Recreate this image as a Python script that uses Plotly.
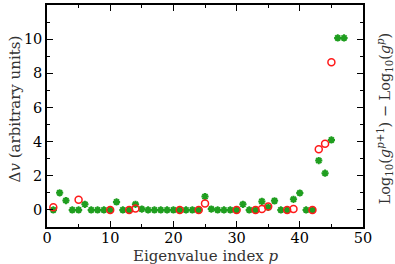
import plotly.graph_objects as go

green_x = list(range(1, 48))
green_y = [0, 1.0, 0.55, 0, 0, 0.33, 0, 0, 0, 0,
           0.47, 0, 0, 0.33, 0.05, 0, 0, 0, 0, 0,
           0, 0, 0, 0, 0.78, 0.05, 0, 0, 0, 0,
           0.33, 0, 0, 0.5, 0.15, 0.53, 0, 0, 0.62, 0.99,
           0, 0, 2.89, 2.15, 4.1, 10.07, 10.07]

red_x = [1, 5, 10, 13, 14, 21, 24, 25, 30, 33, 34, 35, 38, 39, 42, 43, 44, 45]
red_y = [0.15, 0.59, 0, 0, 0.08, 0, 0, 0.37, 0, 0, 0.05, 0.2, 0, 0.05, 0, 3.55, 3.88, 8.65]

FONT = "DejaVu Serif"
TXT = "#333333"

fig = go.Figure()
fig.add_trace(go.Scatter(
    x=green_x, y=green_y, mode="markers",
    marker=dict(symbol="asterisk", size=6, color="#1f9e1f",
                line=dict(color="#1f9e1f", width=2)),
    showlegend=False, cliponaxis=False))
fig.add_trace(go.Scatter(
    x=red_x, y=red_y, mode="markers",
    marker=dict(symbol="circle-open", size=7, color="#ff1a1a",
                line=dict(color="#ff1a1a", width=1.5)),
    showlegend=False, cliponaxis=False))

axis_common = dict(
    showline=True, linecolor="black", linewidth=1.5, mirror="allticks",
    ticks="inside", ticklen=6, tickwidth=1.2, tickcolor="black",
    showgrid=False, zeroline=False, automargin=False,
    tickfont=dict(family=FONT, size=14.5, color="black"),
)

fig.update_xaxes(
    range=[0, 50], tick0=0, dtick=10, ticklabelstandoff=-3,
    minor=dict(ticks="inside", ticklen=3, tickwidth=1.2, tickcolor="black", dtick=5, showgrid=False),
    **axis_common)
fig.update_yaxes(
    range=[-1, 12], tick0=0, dtick=2,
    minor=dict(ticks="inside", ticklen=3, tickwidth=1.2, tickcolor="black", dtick=1, showgrid=False),
    **axis_common)

title_font = dict(family=FONT, size=15, color=TXT)
fig.add_annotation(
    text="Eigenvalue index <i>p</i>", xref="paper", yref="paper",
    x=0.503, y=-0.13, xanchor="center", yanchor="middle", showarrow=False, font=title_font)
fig.add_annotation(
    text="Δ<i>v</i> (arbitrary units)", xref="paper", yref="paper",
    x=-0.101, y=0.53, xanchor="center", yanchor="middle", textangle=-90,
    showarrow=False, font=title_font)
fig.add_annotation(
    text="Log<sub>10</sub>(<i>g</i><sup><i>p</i>+1</sup>) − Log<sub>10</sub>(<i>g</i><sup><i>p</i></sup>)",
    xref="paper", yref="paper", x=1.07, y=0.49, xanchor="center", yanchor="middle",
    textangle=-90, showarrow=False, font=dict(family=FONT, size=14.5, color=TXT))

fig.update_layout(
    width=395, height=264,
    margin=dict(l=47, r=32, t=5, b=37, autoexpand=False),
    paper_bgcolor="white", plot_bgcolor="white",
    font=dict(family=FONT),
)

fig.write_html("out.html", config={"displayModeBar": False},
               post_script="document.body.style.margin='0';document.body.style.padding='0';")
